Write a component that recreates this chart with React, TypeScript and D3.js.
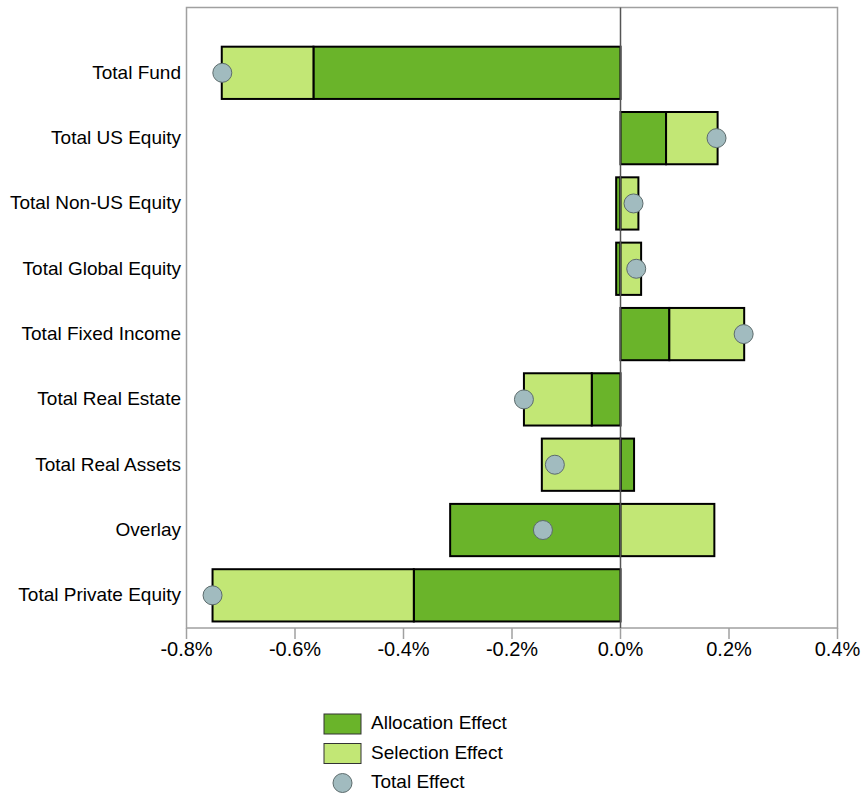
import React from "react";
import * as d3 from "d3";

const categories = [
  "Total Fund",
  "Total US Equity",
  "Total Non-US Equity",
  "Total Global Equity",
  "Total Fixed Income",
  "Total Real Estate",
  "Total Real Assets",
  "Overlay",
  "Total Private Equity",
];
const allocation = [-0.566, 0.084, -0.008, -0.008, 0.09, -0.053, 0.025, -0.314, -0.381];
const selection = [-0.169, 0.095, 0.033, 0.038, 0.138, -0.125, -0.145, 0.173, -0.371];
const totalEffect = [-0.734, 0.177, 0.024, 0.029, 0.227, -0.178, -0.121, -0.143, -0.752];
const xTickValues = [-0.8, -0.6, -0.4, -0.2, 0.0, 0.2, 0.4];
const legendItems = ["Allocation Effect", "Selection Effect", "Total Effect"];

const W = 862;
const H = 795;
const left = 186.5;
const right = 837.5;
const top = 7.5;
const bottom = 628;
const ALLOC = "#6ab42a";
const SEL = "#c2e775";
const DOT = "#a1bbbf";
const FONT = "'Liberation Sans', Arial, sans-serif";

export default function App() {
  const x = d3.scaleLinear().domain([-0.8, 0.4]).range([left, right]);
  const step = (bottom - top) / 9.5;
  const y = d3.scalePoint<string>().domain(categories).range([top + step, bottom - step / 2]);
  const barH = step * 0.8;

  const rows = categories.map((c, i) => ({ cat: c, alloc: allocation[i], sel: selection[i] }));
  const stacked = d3
    .stack<any>()
    .keys(["alloc", "sel"])
    .offset(d3.stackOffsetDiverging)(rows);
  const colors: Record<string, string> = { alloc: ALLOC, sel: SEL };

  return (
    <svg
      width={W}
      height={H}
      style={{ position: "absolute", left: 0, top: 0, background: "#fff" }}
      fontFamily={FONT}
    >
      {/* frame */}
      <rect x={left} y={top} width={right - left} height={bottom - top} fill="none" stroke="#a0a0a0" strokeWidth={1.5} />
      {/* x ticks */}
      {xTickValues.map((t) => (
        <g key={t}>
          <line x1={x(t)} x2={x(t)} y1={bottom} y2={bottom + 11} stroke="#a0a0a0" strokeWidth={1.5} />
          <text x={x(t)} y={651} textAnchor="middle" dominantBaseline="middle" fontSize={20} fill="#000">
            {`${t.toFixed(1)}%`}
          </text>
        </g>
      ))}
      {/* category labels */}
      {categories.map((c) => (
        <text key={c} x={181} y={y(c)! + 1} textAnchor="end" dominantBaseline="middle" fontSize={19} fill="#000">
          {c}
        </text>
      ))}
      {/* bars */}
      {stacked.map((s) =>
        s.map((d, i) => {
          const x0 = Math.min(x(d[0]), x(d[1]));
          const x1 = Math.max(x(d[0]), x(d[1]));
          return (
            <rect
              key={s.key + i}
              x={x0}
              y={y(categories[i])! - barH / 2}
              width={x1 - x0}
              height={barH}
              fill={colors[s.key]}
              stroke="#000"
              strokeWidth={2}
            />
          );
        })
      )}
      {/* zero line */}
      <line x1={x(0)} x2={x(0)} y1={top} y2={bottom} stroke="#555" strokeWidth={1.5} />
      {/* total effect dots */}
      {categories.map((c, i) => (
        <circle key={c} cx={x(totalEffect[i])} cy={y(c)!} r={9.5} fill={DOT} stroke="#5c6b6c" strokeWidth={1} />
      ))}
      {/* legend */}
      <g>
        <rect x={324} y={714} width={37} height={20} fill={ALLOC} stroke="#333" strokeWidth={1} />
        <text x={371} y={724} dominantBaseline="middle" fontSize={19}>{legendItems[0]}</text>
        <rect x={324} y={743.5} width={37} height={20} fill={SEL} stroke="#333" strokeWidth={1} />
        <text x={371} y={753.5} dominantBaseline="middle" fontSize={19}>{legendItems[1]}</text>
        <circle cx={342.5} cy={783} r={9.5} fill={DOT} stroke="#5c6b6c" strokeWidth={1} />
        <text x={371} y={783} dominantBaseline="middle" fontSize={19}>{legendItems[2]}</text>
      </g>
    </svg>
  );
}
